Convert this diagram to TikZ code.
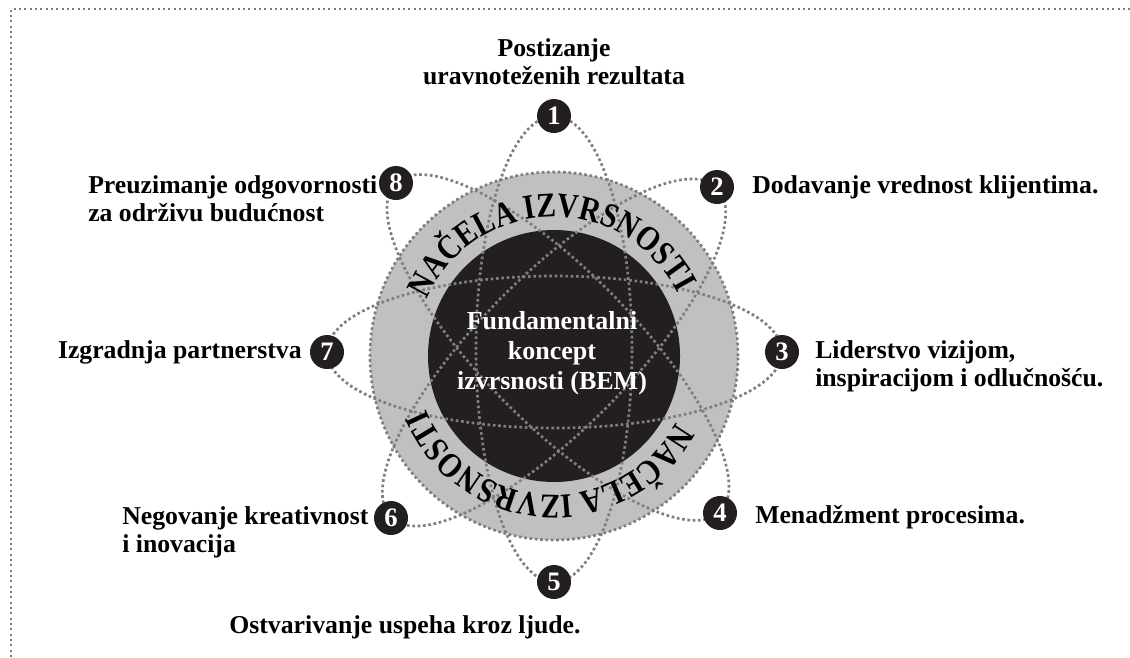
\documentclass[tikz,border=0pt]{standalone}
\usepackage{fontspec}
\setmainfont{Liberation Serif}
\newfontfamily\ringfam[FakeStretch=0.85]{Liberation Serif}
\usetikzlibrary{decorations.text}
\definecolor{ink}{HTML}{231F20}
\definecolor{ringgray}{HTML}{C0C0C0}
\definecolor{dotgray}{HTML}{7E7E7E}
\newcommand{\ringfont}{\ringfam\bfseries\fontsize{26}{26}\selectfont}
\begin{document}
\begin{tikzpicture}[x=0.75pt,y=0.75pt,
  dots/.style={draw=dotgray, line width=2pt, dash pattern=on 2pt off 2pt},
  num/.style={circle, fill=ink, text=white, minimum size=25.5pt, inner sep=0pt,
              font=\bfseries\fontsize{20}{20}\selectfont},
  lbl/.style={font=\bfseries\fontsize{19.3}{21}\selectfont, inner sep=0pt, text=black},
]
\useasboundingbox (0,0) rectangle (1130,-657);

% frame
\draw[dots, line width=1.6pt, dash pattern=on 1.6pt off 2.4pt] (11,-657) -- (11,-9) -- (1130,-9);

% central rings
\coordinate (c) at (554,-356);
\fill[ringgray] (c) circle[radius=184];
\draw[dots] (c) circle[radius=184];
\fill[ink] (c) circle[radius=126];

% orbits
\draw[dots] (554,-349) ellipse[x radius=78, y radius=233];
\draw[dots] (554.5,-352) ellipse[x radius=227.5, y radius=76];
\draw[dots, rotate around={45.4:(554,-352.5)}] (554,-352.5) ellipse[x radius=232, y radius=76];
\draw[dots, rotate around={-45.4:(558,-347.5)}] (558,-347.5) ellipse[x radius=231, y radius=76];

% ring lettering
\path[decorate, decoration={text along path, text align=center,
      text={|\ringfont|NAČELA IZVRSNOSTI}}]
  (c) ++(180:139) arc[start angle=180, end angle=3, radius=139];
\path[decorate, decoration={text along path, text align=center,
      text={|\ringfont|NAČELA IZVRSNOSTI}}]
  (c) ++(-4:139) arc[start angle=-4, end angle=-182, radius=139];

% core
\node[font=\bfseries\fontsize{19.5}{22.5}\selectfont, text=white, align=center] (core)
  at (552,-353) {Fundamentalni\\koncept\\izvrsnosti (BEM)};

% numbered principles
\node[num] (n1) at (554,-116) {1};
\node[num] (n2) at (717,-187) {2};
\node[num] (n3) at (782,-352) {3};
\node[num] (n4) at (720,-513) {4};
\node[num] (n5) at (554,-582) {5};
\node[num] (n6) at (391,-518) {6};
\node[num] (n7) at (327,-352) {7};
\node[num] (n8) at (396,-183) {8};

% labels
\node[lbl, align=center] (l1) at (554,-62) {Postizanje\\uravnoteženih rezultata};
\node[lbl, anchor=west] (l2) at (752,-187) {Dodavanje vrednost klijentima.};
\node[lbl, anchor=west, align=left] (l3) at (815,-366) {Liderstvo vizijom,\\inspiracijom i odlučnošću.};
\node[lbl, anchor=west] (l4) at (755,-517) {Menadžment procesima.};
\node[lbl] (l5) at (405,-627) {Ostvarivanje uspeha kroz ljude.};
\node[lbl, anchor=west, align=left] (l6) at (122,-532) {Negovanje kreativnost\\i inovacija};
\node[lbl, anchor=east] (l7) at (302,-352) {Izgradnja partnerstva};
\node[lbl, anchor=west, align=left] (l8) at (88,-199) {Preuzimanje odgovornosti\\za održivu budućnost};
\end{tikzpicture}
\end{document}
